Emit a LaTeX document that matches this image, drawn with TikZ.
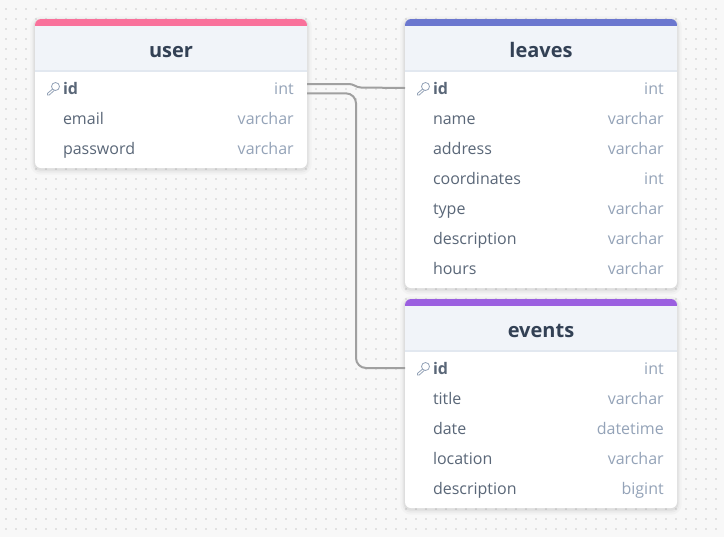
\documentclass[tikz,border=0pt]{standalone}
\usepackage{fontspec}
\setmainfont{Open Sans}
\usetikzlibrary{positioning,calc,fit,backgrounds}
\definecolor{canvas}{HTML}{F8F8F8}
\definecolor{griddot}{HTML}{9A9A9A}
\definecolor{headfill}{HTML}{F1F4F9}
\definecolor{headline}{HTML}{E2E8F0}
\definecolor{titleink}{HTML}{334155}
\definecolor{fieldink}{HTML}{5A6778}
\definecolor{typeink}{HTML}{94A3B8}
\definecolor{linkgray}{HTML}{A0A0A0}
\definecolor{userpink}{HTML}{F9719B}
\definecolor{leavesblue}{HTML}{6B77CF}
\definecolor{eventspurple}{HTML}{9B5FE0}

\begin{document}
\begin{tikzpicture}[x=0.75pt,y=-0.75pt,
        bar/.style={rectangle, rounded corners=4.5pt, minimum width=204pt, minimum height=9pt, inner sep=0pt, outer sep=0pt},
        headbox/.style={rectangle, fill=headfill, minimum width=204pt, minimum height=33.75pt, inner sep=0pt, outer sep=0pt, text height=14.2pt, text depth=0pt, text=titleink, font=\fontsize{15}{17}\selectfont\bfseries},
        rowbox/.style={rectangle, minimum height=22.5pt, inner xsep=21pt, inner ysep=0pt, outer sep=0pt, text width=162pt, align=left, text height=10.5pt, text depth=1.5pt, text=fieldink, font=\fontsize{12}{14}\selectfont},
        idrow/.style={rowbox, font=\fontsize{12}{14}\selectfont\bfseries},
        typed/.style={label={[anchor=east, xshift=-9.75pt, inner sep=0pt, text=typeink, text height=10.5pt, text depth=1.5pt, font=\fontsize{12}{14}\selectfont]east:#1}},
        link/.style={draw=linkgray, line width=1.5pt},
        card/.style={rectangle, fill=white, rounded corners=4.5pt, inner sep=0pt,
            preaction={draw=black, fill=none, draw opacity=0.025, line width=7pt, transform canvas={yshift=-1.5pt}},
            preaction={draw=black, fill=none, draw opacity=0.03, line width=4pt, transform canvas={yshift=-1.5pt}},
            preaction={draw=black, fill=none, draw opacity=0.05, line width=2pt, transform canvas={yshift=-1pt}}},
        keyicon/.pic={
            \draw[typeink, line width=0.6pt, line join=round] (2.5,-1.5) circle[radius=4];
            \draw[typeink, line width=0.6pt, line join=round] (-0.3,1) -- (-5.6,5.4) -- (-5.6,7) -- (-3.8,7) -- (1.4,2.3);
        }]

        % user
        \node[bar, fill=userpink, anchor=north west] (userbar) at (35,19) {};
        \node[headbox, below=-3.75pt of userbar] (usertitle) {user};
        \node[idrow, typed=int, below=1.5pt of usertitle] (userid) {id};
        \node[rowbox, typed=varchar, below=0pt of userid] (useremail) {email};
        \node[rowbox, typed=varchar, below=0pt of useremail] (userpassword) {password};
        \coordinate[below=3.75pt of userpassword.south] (userend);

        % leaves
        \node[bar, fill=leavesblue, right=73.5pt of userbar] (leavesbar) {};
        \node[headbox, below=-3.75pt of leavesbar] (leavestitle) {leaves};
        \node[idrow, typed=int, below=1.5pt of leavestitle] (leavesid) {id};
        \node[rowbox, typed=varchar, below=0pt of leavesid] (leavesname) {name};
        \node[rowbox, typed=varchar, below=0pt of leavesname] (leavesaddress) {address};
        \node[rowbox, typed=int, below=0pt of leavesaddress] (leavescoords) {coordinates};
        \node[rowbox, typed=varchar, below=0pt of leavescoords] (leavestype) {type};
        \node[rowbox, typed=varchar, below=0pt of leavestype] (leavesdesc) {description};
        \node[rowbox, typed=varchar, below=0pt of leavesdesc] (leaveshours) {hours};
        \coordinate[below=3.75pt of leaveshours.south] (leavesend);

        % events
        \node[bar, fill=eventspurple, below=8.25pt of leavesend] (eventsbar) {};
        \node[headbox, below=-3.75pt of eventsbar] (eventstitle) {events};
        \node[idrow, typed=int, below=1.5pt of eventstitle] (eventsid) {id};
        \node[rowbox, typed=varchar, below=0pt of eventsid] (eventstitlerow) {title};
        \node[rowbox, typed=datetime, below=0pt of eventstitlerow] (eventsdate) {date};
        \node[rowbox, typed=varchar, below=0pt of eventsdate] (eventslocation) {location};
        \node[rowbox, typed=bigint, below=0pt of eventslocation] (eventsdesc) {description};
        \coordinate[below=3.75pt of eventsdesc.south] (eventsend);

        % rule under each title
        \foreach \t in {usertitle,leavestitle,eventstitle}
            \draw[headline, line width=1.2pt] (\t.south west) -- (\t.south east);

        % key marks
        \pic at ([xshift=13.5pt]userid.west) {keyicon};
        \pic at ([xshift=13.5pt]leavesid.west) {keyicon};
        \pic at ([xshift=13.5pt]eventsid.west) {keyicon};

        % links
        \coordinate (bend) at (356,230);
        \draw[link] ([yshift=3pt]userid.east) -- ++(42,0) to[out=0,in=180] ++(12,3.5) -- (leavesid.west);
        \draw[link, rounded corners=7.5pt] ([yshift=-4pt]userid.east) -| (bend) |- (eventsid.west);

        \begin{scope}[on background layer]
            \fill[canvas] (0,0) rectangle (724,537);
            \foreach \i in {0,...,71}
                \foreach \j in {0,...,52}
                    \fill[griddot] (6+10*\i,9+10*\j) circle[radius=0.7];
            \node[card, fit=(userbar)(userend)] (usercard) {};
            \node[card, fit=(leavesbar)(leavesend)] (leavescard) {};
            \node[card, fit=(eventsbar)(eventsend)] (eventscard) {};
        \end{scope}
    \end{tikzpicture}
\end{document}
